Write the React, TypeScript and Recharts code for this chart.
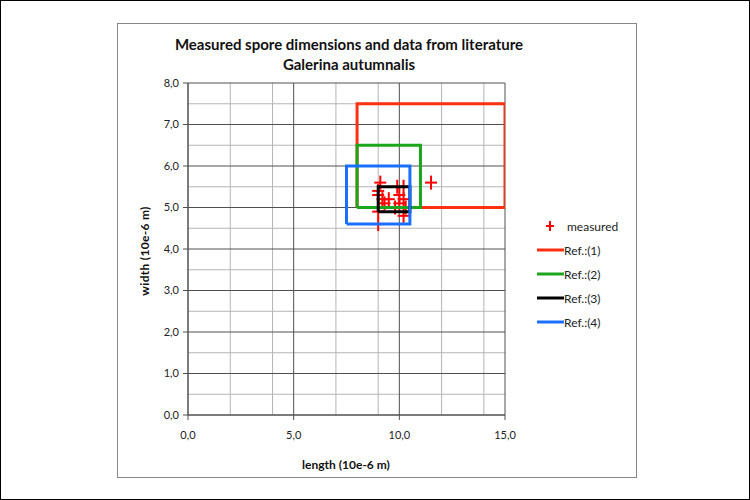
import { ScatterChart, Scatter, XAxis, YAxis, CartesianGrid } from "recharts";

const measuredLength = [9.1, 11.5, 9.9, 10.2, 9.0, 9.0, 9.2, 9.5, 9.3, 10.0, 10.2, 9.8, 10.0, 10.3, 9.0, 10.2, 9.0];
const measuredWidth = [5.6, 5.6, 5.5, 5.5, 5.4, 5.3, 5.2, 5.2, 5.1, 5.3, 5.2, 5.0, 5.1, 5.0, 4.6, 4.8, 4.9];

const refNames = ["Ref.:(1)", "Ref.:(2)", "Ref.:(3)", "Ref.:(4)"];
const refColors = ["#ff3010", "#1ea51e", "#000000", "#1a6fff"];
const refLengthMin = [8.0, 8.0, 9.0, 7.5];
const refLengthMax = [15.0, 11.0, 10.5, 10.5];
const refWidthMin = [5.0, 5.0, 4.9, 4.6];
const refWidthMax = [7.5, 6.5, 5.5, 6.0];

const xTicks = [0, 5, 10, 15];
const yTicks = [0, 1, 2, 3, 4, 5, 6, 7, 8];
const xMinor = [1, 2, 3, 4, 6, 7, 8, 9, 11, 12, 13, 14];
const yMinor = [0.5, 1.5, 2.5, 3.5, 4.5, 5.5, 6.5, 7.5];

const measured = measuredLength.map((x, i) => ({ x, y: measuredWidth[i] }));
const refs = refNames.map((name, i) => ({
  name,
  color: refColors[i],
  data: [
    { x: refLengthMin[i], y: refWidthMin[i] },
    { x: refLengthMax[i], y: refWidthMin[i] },
    { x: refLengthMax[i], y: refWidthMax[i] },
    { x: refLengthMin[i], y: refWidthMax[i] },
    { x: refLengthMin[i], y: refWidthMin[i] },
  ],
}));

const fmt = (v: number) => v.toFixed(1).replace(".", ",");
const font = "Lato, 'Open Sans', sans-serif";

const Plus = (props: any) => {
  const { cx, cy } = props;
  return (
    <g stroke="#ff0000" strokeWidth={2}>
      <line x1={cx - 6} y1={cy} x2={cx + 6} y2={cy} />
      <line x1={cx} y1={cy - 7} x2={cx} y2={cy + 7} />
    </g>
  );
};

const LegendBox = () => (
  <div style={{ fontFamily: font, fontSize: 12, color: "#222" }}>
    <div style={{ display: "flex", alignItems: "center", height: 24 }}>
      <svg width={28} height={14}>
        <g stroke="#ff0000" strokeWidth={2}>
          <line x1={9} y1={7} x2={17} y2={7} />
          <line x1={13} y1={2} x2={13} y2={12} />
        </g>
      </svg>
      <span style={{ marginLeft: 2 }}>measured</span>
    </div>
    {refs.map((r) => (
      <div key={r.name} style={{ display: "flex", alignItems: "center", height: 24 }}>
        <svg width={27} height={14}>
          <line x1={0} y1={7} x2={27} y2={7} stroke={r.color} strokeWidth={3} />
        </svg>
        <span>{r.name}</span>
      </div>
    ))}
  </div>
);

export default function App() {
  return (
    <div
      style={{
        position: "absolute",
        left: 0,
        top: 0,
        width: 750,
        height: 500,
        boxSizing: "border-box",
        border: "1px solid #000",
        background: "#fff",
        fontFamily: font,
      }}
    >
      <div
        style={{
          position: "absolute",
          left: 116,
          top: 22,
          width: 518,
          height: 453,
          border: "1px solid #888",
        }}
      />
      <div
        style={{
          position: "absolute",
          left: 148,
          top: 33,
          width: 400,
          textAlign: "center",
          fontWeight: 700,
          fontSize: 15,
          lineHeight: "20px",
          color: "#111",
        }}
      >
        Measured spore dimensions and data from literature
        <br />
        Galerina autumnalis
      </div>
      <div
        style={{
          position: "absolute",
          left: 143,
          top: 250,
          transform: "translate(-50%, -50%) rotate(-90deg)",
          whiteSpace: "nowrap",
          fontWeight: 700,
          fontSize: 12,
          letterSpacing: 0.3,
          color: "#111",
        }}
      >
        width (10e-6 m)
      </div>
      <div
        style={{
          position: "absolute",
          left: 345,
          top: 463,
          transform: "translate(-50%, -50%)",
          whiteSpace: "nowrap",
          fontWeight: 700,
          fontSize: 12,
          color: "#111",
        }}
      >
        length (10e-6 m)
      </div>
      <div style={{ position: "absolute", left: 0, top: 0 }}>
        <ScatterChart width={750} height={500} margin={{ top: 82, right: 246, bottom: 56, left: 127 }}>
          <CartesianGrid verticalValues={xMinor} horizontalValues={yMinor} stroke="#b4b4b4" strokeWidth={1} />
          <CartesianGrid verticalValues={xTicks} horizontalValues={yTicks} stroke="#505050" strokeWidth={1} />
          <XAxis
            type="number"
            dataKey="x"
            domain={[0, 15]}
            ticks={xTicks}
            tickFormatter={fmt}
            height={30}
            stroke="#505050"
            tickSize={5}
            tickMargin={11}
            tick={{ fontSize: 11, fill: "#222", fontFamily: font }}
            allowDataOverflow
          />
          <YAxis
            type="number"
            dataKey="y"
            domain={[0, 8]}
            ticks={yTicks}
            tickFormatter={fmt}
            width={60}
            stroke="#505050"
            tickSize={5}
            tickMargin={4}
            tick={{ fontSize: 11, fill: "#222", fontFamily: font }}
            allowDataOverflow
          />
          <Scatter name="measured" data={measured} shape={Plus} isAnimationActive={false} />
          {refs.map((r) => (
            <Scatter
              key={r.name}
              name={r.name}
              data={r.data}
              line={{ stroke: r.color, strokeWidth: 3 }}
              lineType="joint"
              shape={() => <g />}
              isAnimationActive={false}
            />
          ))}
        </ScatterChart>
      </div>
      <div style={{ position: "absolute", left: 536, top: 213, width: 100 }}>
        <LegendBox />
      </div>
    </div>
  );
}
